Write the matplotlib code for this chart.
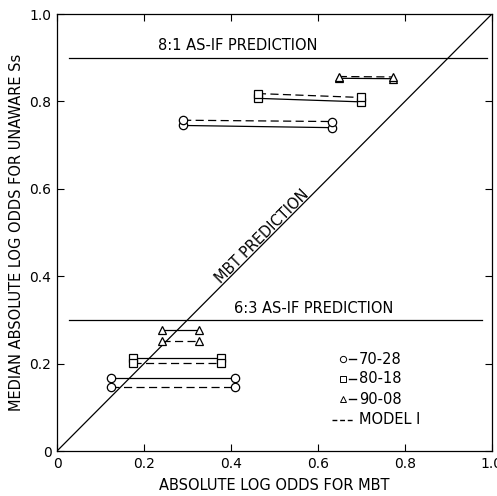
import matplotlib
matplotlib.use("Agg")
import matplotlib.pyplot as plt

# conditions and their markers
conditions = ["70-28", "80-18", "90-08"]
markers = ["o", "s", "^"]

# 8:1 group (upper) - x ends of the segments and y at each end
x_81 = [(0.29, 0.632), (0.462, 0.70), (0.648, 0.773)]
obs_81 = [(0.745, 0.740), (0.807, 0.799), (0.853, 0.852)]
mod_81 = [(0.757, 0.754), (0.818, 0.809), (0.857, 0.856)]

# 6:3 group (lower)
x_63 = [(0.124, 0.409), (0.175, 0.377), (0.241, 0.326)]
obs_63 = [(0.167, 0.167), (0.213, 0.213), (0.277, 0.277)]
mod_63 = [(0.146, 0.146), (0.201, 0.201), (0.252, 0.252)]

# as-if predictions
asif_labels = ["8:1 AS-IF PREDICTION", "6:3 AS-IF PREDICTION"]
asif_y = [0.90, 0.30]
asif_x = [(0.028, 0.988), (0.028, 0.977)]

ticks = [0, 0.2, 0.4, 0.6, 0.8, 1.0]
tick_labels = ["0", "0.2", "0.4", "0.6", "0.8", "1.0"]

fig = plt.figure(figsize=(4.97, 4.96), dpi=100)
ax = fig.add_axes([0.1147, 0.0907, 0.875, 0.881])

fs = 10.5
lw = 0.9
mk = dict(markersize=6, markerfacecolor="white", markeredgecolor="black", markeredgewidth=0.9)

# MBT prediction diagonal
ax.plot([0, 1], [0, 1], color="black", lw=lw)
ax.text(0.472, 0.492, "MBT PREDICTION", rotation=45, ha="center", va="center",
        fontsize=fs, rotation_mode="anchor")

for lab, y, (x0, x1) in zip(asif_labels, asif_y, asif_x):
    ax.plot([x0, x1], [y, y], color="black", lw=lw)
ax.text(0.416, 0.91, asif_labels[0], ha="center", va="bottom", fontsize=fs)
ax.text(0.59, 0.309, asif_labels[1], ha="center", va="bottom", fontsize=fs)

for xs_all, obs_all, mod_all in [(x_81, obs_81, mod_81), (x_63, obs_63, mod_63)]:
    for m, xs, ob, md in zip(markers, xs_all, obs_all, mod_all):
        ax.plot(xs, ob, color="black", lw=lw, marker=m, **mk)
        ax.plot(xs, md, color="black", lw=lw, ls=(0, (6.5, 3.5)), marker=m, **mk)

# legend drawn by hand, as in the original
leg_y = [0.21, 0.165, 0.119]
for m, lab, y in zip(markers, conditions, leg_y):
    ax.plot([0.657], [y], marker=m, color="black", markersize=4.5,
            markerfacecolor="white", markeredgewidth=0.7)
    ax.plot([0.671, 0.688], [y, y], color="black", lw=1.0)
    ax.text(0.694, y, lab, ha="left", va="center", fontsize=fs)
ax.plot([0.632, 0.684], [0.071, 0.071], color="black", lw=1.0, ls=(0, (3.5, 2)))
ax.text(0.694, 0.071, "MODEL I", ha="left", va="center", fontsize=fs)

ax.set_xlim(0, 1)
ax.set_ylim(0, 1)
ax.set_xticks(ticks)
ax.set_yticks(ticks)
ax.set_xticklabels(tick_labels, fontsize=10)
ax.set_yticklabels(tick_labels, fontsize=10)
ax.tick_params(direction="in", top=True, right=True, length=5, width=0.8, pad=4)
for s in ax.spines.values():
    s.set_linewidth(0.9)

ax.set_xlabel("ABSOLUTE LOG ODDS FOR MBT", fontsize=fs, labelpad=5)
ax.set_ylabel("MEDIAN ABSOLUTE LOG ODDS FOR UNAWARE Ss", fontsize=fs, labelpad=4)

plt.savefig("out.png", dpi=100)
